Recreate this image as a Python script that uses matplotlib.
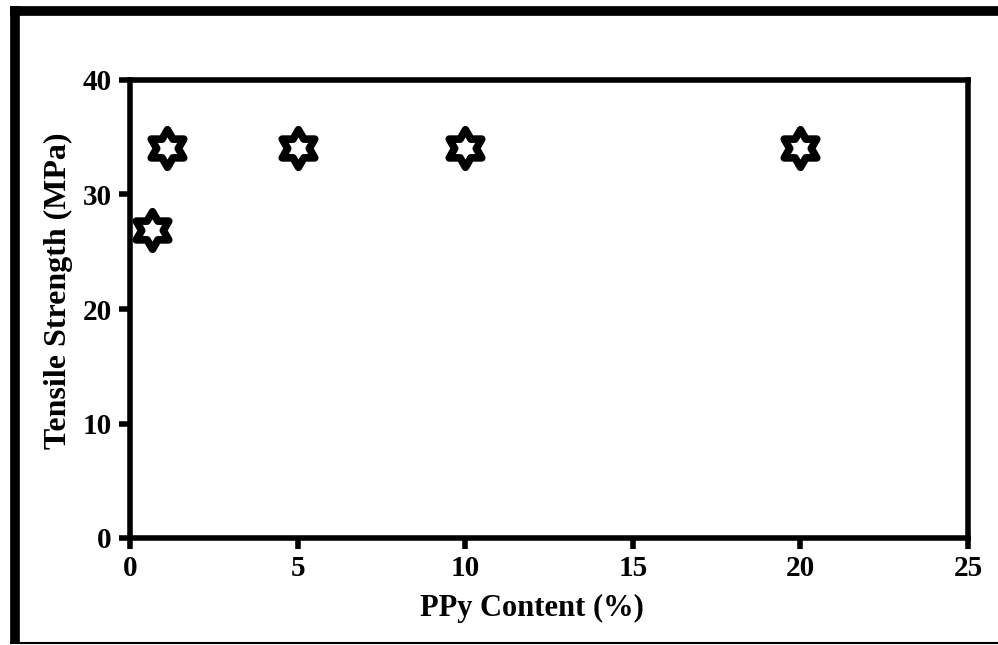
import matplotlib
matplotlib.use("Agg")
import matplotlib.pyplot as plt
from matplotlib.path import Path
from matplotlib.lines import Line2D
from matplotlib.markers import MarkerStyle
import numpy as np

ppy_content = [0.67, 1.1, 5, 10, 20]
tensile_strength = [26.9, 34.1, 34.1, 34.1, 34.1]
x_ticks = [0, 5, 10, 15, 20, 25]
y_ticks = [0, 10, 20, 30, 40]

plt.rcParams['font.family'] = ['Liberation Serif', 'DejaVu Serif']
plt.rcParams['font.weight'] = 'bold'

W, H = 998, 645
fig = plt.figure(figsize=(W/100, H/100), dpi=100)
ax = fig.add_axes([130/W, 1-538/H, (968-130)/W, (538-80)/H])

# hexagram marker
ang_out = np.pi/2 + np.arange(6)*np.pi/3
ang_in = ang_out + np.pi/6
r_in = 1/np.sqrt(3)
verts = []
for ao, ai in zip(ang_out, ang_in):
    verts.append((np.cos(ao), np.sin(ao)))
    verts.append((r_in*np.cos(ai), r_in*np.sin(ai)))
verts.append(verts[0])
codes = [Path.MOVETO] + [Path.LINETO]*(len(verts)-2) + [Path.CLOSEPOLY]
hexagram = MarkerStyle(Path(verts, codes), joinstyle='round')

ax.plot(ppy_content, tensile_strength, linestyle='none', marker=hexagram,
        markersize=27, markerfacecolor='white', markeredgecolor='black',
        markeredgewidth=5.5, clip_on=False, zorder=5)

ax.set_xlim(0, 25)
ax.set_ylim(0, 40)
ax.set_xticks(x_ticks)
ax.set_yticks(y_ticks)
for s in ax.spines.values():
    s.set_linewidth(4)
ax.tick_params(direction='out', length=8, width=4, labelsize=21)
ax.tick_params(axis='y', pad=5)
ax.tick_params(axis='x', pad=4)
for lab in ax.get_xticklabels() + ax.get_yticklabels():
    lab.set_fontweight('bold')
ax.set_xlabel('PPy Content (%)', fontsize=22, fontweight='bold')
ax.set_ylabel('Tensile Strength (MPa)', fontsize=23, fontweight='bold')
ax.xaxis.set_label_coords((532-130)/838, (538-608)/458)
ax.xaxis.label.set_va('center')
ax.yaxis.set_label_coords((58-130)/838, (538-291)/458)
ax.yaxis.label.set_va('center')

# outer frame
fig.add_artist(Line2D([14.5/W, 14.5/W], [1-6/H, 1-643/H], transform=fig.transFigure,
                      color='black', linewidth=7, solid_capstyle='butt'))
fig.add_artist(Line2D([10/W, 1.0], [1-11/H, 1-11/H], transform=fig.transFigure,
                      color='black', linewidth=7, solid_capstyle='butt'))
fig.add_artist(Line2D([10/W, 1.0], [1-642.5/H, 1-642.5/H], transform=fig.transFigure,
                      color='black', linewidth=1.5, solid_capstyle='butt'))

fig.savefig('out.png', dpi=100)
